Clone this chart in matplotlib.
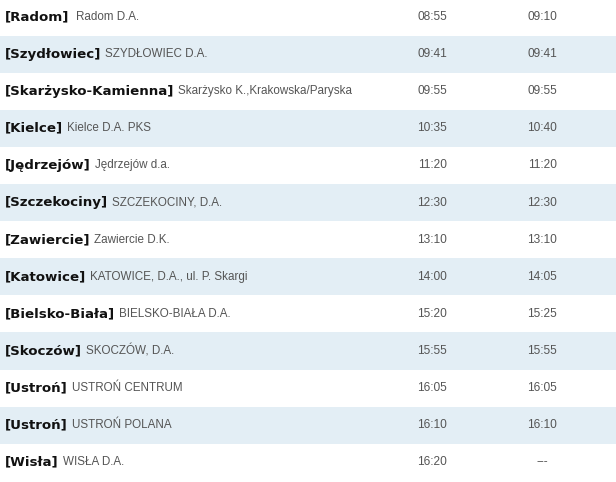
import matplotlib
matplotlib.use("Agg")
import matplotlib.pyplot as plt
from matplotlib.patches import Rectangle

towns = ["Radom", "Szydłowiec", "Skarżysko-Kamienna", "Kielce", "Jędrzejów",
         "Szczekociny", "Zawiercie", "Katowice", "Bielsko-Biała", "Skoczów",
         "Ustroń", "Ustroń", "Wisła"]
stops = ["Radom D.A.", "SZYDŁOWIEC D.A.", "Skarżysko K.,Krakowska/Paryska",
         "Kielce D.A. PKS", "Jędrzejów d.a.", "SZCZEKOCINY, D.A.", "Zawiercie D.K.",
         "KATOWICE, D.A., ul. P. Skargi", "BIELSKO-BIAŁA D.A.", "SKOCZÓW, D.A.",
         "USTROŃ CENTRUM", "USTROŃ POLANA", "WISŁA D.A."]
arrivals = ["08:55", "09:41", "09:55", "10:35", "11:20", "12:30", "13:10",
            "14:00", "15:20", "15:55", "16:05", "16:10", "16:20"]
departures = ["09:10", "09:41", "09:55", "10:40", "11:20", "12:30", "13:10",
              "14:05", "15:25", "15:55", "16:05", "16:10", "---"]

W, H = 616, 482
fig = plt.figure(figsize=(W / 100, H / 100), dpi=100)
ax = fig.add_axes([0, 0, 1, 1])
ax.set_xlim(0, W)
ax.set_ylim(H, 0)
ax.axis("off")

row_h = 37.1
top = -1.5
fig.canvas.draw()
renderer = fig.canvas.get_renderer()

for i, (town, stop, arr, dep) in enumerate(zip(towns, stops, arrivals, departures)):
    y0 = top + i * row_h
    yc = y0 + row_h / 2
    if i % 2 == 1:
        ax.add_patch(Rectangle((0, y0), W, row_h, color="#e3eef5", lw=0))
    t = ax.text(5, yc, f"[{town}]", fontsize=9.6, fontweight="bold",
                color="#111111", va="center", ha="left", family="DejaVu Sans")
    bb = t.get_window_extent(renderer)
    gap = 7 if i == 0 else 4
    ax.text(bb.x1 + gap, yc, stop, fontsize=8.4, color="#555555",
            va="center", ha="left", family="Liberation Sans")
    ax.text(432, yc, arr, fontsize=8.6, color="#555555", va="center",
            ha="center", family="Liberation Sans")
    ax.text(542, yc, dep, fontsize=8.6, color="#555555", va="center",
            ha="center", family="Liberation Sans")

fig.savefig("out.png", dpi=100, facecolor="white")
